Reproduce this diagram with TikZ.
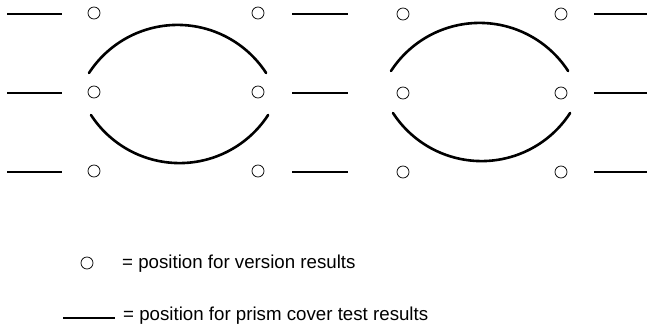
\documentclass[tikz,border=0pt]{standalone}
\usepackage{fontspec}
\setmainfont{Liberation Sans}
\begin{document}
\begin{tikzpicture}[x=1pt,y=-1pt,
  coverline/.style={line width=2pt},
  posdot/.style={circle,draw,line width=0.75pt,minimum size=12pt,inner sep=0pt},
  arcline/.style={line width=2.6pt,line cap=round},
  lbl/.style={font=\fontsize{18.7}{20}\selectfont,anchor=base west,inner sep=0pt}]
\useasboundingbox (0,0) rectangle (647,334);
% version positions
\foreach \n/\x/\y in {a1/94/13,a2/94/92,a3/94/171,b1/258/13,b2/258/92,b3/258/171,
                      c1/403/14,c2/403/93,c3/403/172,d1/561/14,d2/561/93,d3/561/172}
  \node[posdot] (\n) at (\x,\y) {};
% cover test lines
\foreach \y in {14,93,172} {
  \draw[coverline] (7,\y) -- (62,\y);
  \draw[coverline] (292,\y) -- (348,\y);
  \draw[coverline] (594,\y) -- (647,\y);
}
% left arcs
\coordinate (la1) at (89,73);
\draw[arcline] (la1) arc[start angle=213,end angle=327,radius=105.6];
\coordinate (lb1) at (91,115);
\draw[arcline] (lb1) arc[start angle=147,end angle=33,radius=105.6];
% right arcs
\coordinate (ra1) at (391,71);
\draw[arcline] (ra1) arc[start angle=213,end angle=327,radius=105.6];
\coordinate (rb1) at (393,113);
\draw[arcline] (rb1) arc[start angle=147,end angle=33,radius=105.6];
% legend
\node[posdot] (lc) at (87,263) {};
\node[lbl] (lt1) at (122,268) {= position for version results};
\draw[coverline] (63,318) -- (115,318);
\node[lbl] (lt2) at (123,320) {= position for prism cover test results};
\end{tikzpicture}
\end{document}
